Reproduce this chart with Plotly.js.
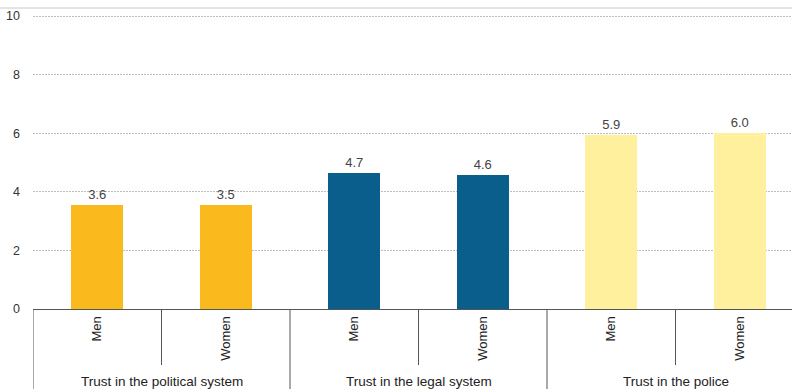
<!DOCTYPE html>
<html>
<head>
<meta charset="utf-8">
<script src="https://cdn.plot.ly/plotly-3.0.1.min.js"></script>
<style>html,body{margin:0;padding:0;background:#fff;overflow:hidden}#chart{width:792px;height:389px}</style>
</head>
<body>
<div id="chart"></div>
<script>
// Data
var groups = ["Trust in the political system", "Trust in the legal system", "Trust in the police"];
var sexes = ["Men", "Women"];
var values = [3.56, 3.54, 4.65, 4.58, 5.94, 6.01];
var yTicks = [0, 2, 4, 6, 8, 10];

// Styles
var groupColors = ["#FABA1E", "#0A5E8C", "#FEF09C"];
var FONT = "Liberation Sans, Arial, sans-serif";

var xs = [], labels = [], colors = [];
groups.forEach(function (g, gi) {
  sexes.forEach(function (s, si) {
    xs.push(gi * sexes.length + si);
    labels.push(s);
    colors.push(groupColors[gi]);
  });
});

var plotTop = 8, plotBottom = 309, H = 389, W = 792, L = 33;
var plotH = plotBottom - plotTop;
var catW = 128.5;
var xMax = -0.5 + (W - L) / catW;
var yMax = 10 * plotH / (plotBottom - 16);

var trace = {
  type: "bar",
  x: xs,
  y: values,
  width: 0.405,
  marker: { color: colors, line: { width: 0 } },
  texttemplate: "%{y:.1f}",
  textposition: "outside",
  textfont: { family: FONT, size: 13, color: "#444" },
  cliponaxis: false,
  hoverinfo: "none"
};

var shapes = [];
shapes.push({ type: "line", xref: "paper", yref: "paper", x0: -L / (W - L), x1: 1, y0: 1, y1: 1,
  line: { color: "#c8c8c8", width: 1 } });
var bottomFrac = -(H - plotBottom) / plotH;
var shortFrac = -(365 - plotBottom) / plotH;
for (var gi = 0; gi < groups.length; gi++) {
  var start = gi * sexes.length - 0.5;
  shapes.push({ type: "line", xref: "x", yref: "paper", x0: start, x1: start, y0: 0, y1: bottomFrac,
    line: { color: "#555555", width: 1 } });
  for (var si = 1; si < sexes.length; si++) {
    var p = start + si;
    shapes.push({ type: "line", xref: "x", yref: "paper", x0: p, x1: p, y0: 0, y1: shortFrac,
      line: { color: "#555555", width: 1 } });
  }
}

var annotations = groups.map(function (g, gi) {
  return {
    text: g, xref: "x", yref: "paper",
    x: gi * sexes.length + (sexes.length - 1) / 2,
    y: -(381 - plotBottom) / plotH,
    xanchor: "center", yanchor: "middle", showarrow: false,
    font: { family: FONT, size: 13.5, color: "#222" }
  };
});

var layout = {
  width: W, height: H,
  margin: { l: L, r: 0, t: plotTop, b: H - plotBottom, pad: 0 },
  paper_bgcolor: "#fff", plot_bgcolor: "#fff",
  showlegend: false,
  bargap: 0,
  xaxis: {
    range: [-0.5, xMax],
    tickvals: xs, ticktext: labels,
    tickangle: -90,
    ticks: "", showgrid: false, zeroline: false,
    showline: true, linecolor: "#555555", linewidth: 1,
    tickfont: { family: FONT, size: 13, color: "#222" },
    ticklabelstandoff: 1,
    fixedrange: true
  },
  yaxis: {
    range: [0, yMax],
    tickvals: yTicks,
    ticks: "", showline: false, zeroline: false,
    showgrid: true, gridcolor: "#bdbdbd", griddash: "2px,1px", gridwidth: 1,
    tickfont: { family: FONT, size: 12.5, color: "#333" },
    ticklabelstandoff: 12,
    fixedrange: true
  },
  shapes: shapes,
  annotations: annotations
};

Plotly.newPlot("chart", [trace], layout, { displayModeBar: false, staticPlot: true });
</script>
</body>
</html>
